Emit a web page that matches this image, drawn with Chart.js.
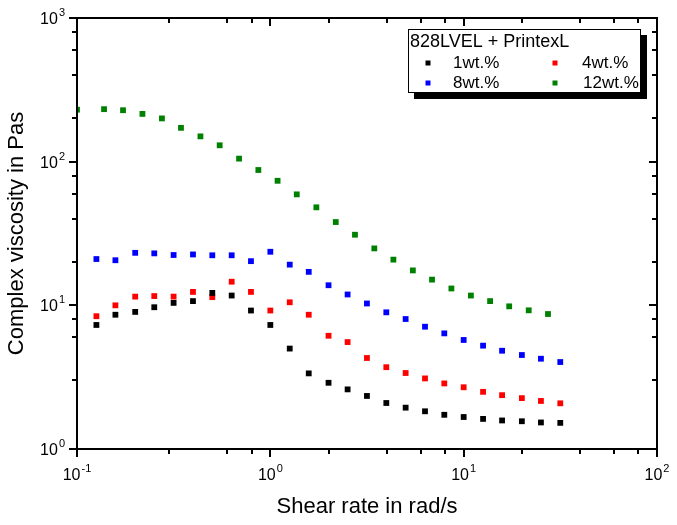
<!DOCTYPE html>
<html><head><meta charset="utf-8">
<script src="https://cdn.jsdelivr.net/npm/chart.js@4"></script>
<style>html,body{margin:0;padding:0;background:#fff}</style>
</head><body>
<canvas id="c" width="677" height="525" style="width:677px;height:525px;display:block"></canvas>
<script>
// Shear rates (rad/s)
const shearStd = [0.126,0.158,0.2,0.251,0.316,0.398,0.501,0.631,0.794,1,1.26,1.58,2,2.51,3.16,3.98,5.01,6.31,7.94,10,12.6,15.8,20,25.1,31.6];
const shear12 = [0.1,0.138,0.173,0.218,0.275,0.345,0.435,0.547,0.689,0.867,1.09,1.37,1.73,2.18,2.74,3.45,4.33,5.46,6.86,8.64,10.9,13.7,17.2,21.7,27.3];
// Complex viscosity (Pa s)
const visc1 = [7.3,8.6,9.0,9.7,10.4,10.7,12.2,11.7,9.2,7.3,5.0,3.36,2.89,2.60,2.34,2.09,1.94,1.83,1.73,1.67,1.62,1.58,1.56,1.53,1.52];
const visc4 = [8.4,10.0,11.5,11.6,11.5,12.4,11.4,14.6,12.4,9.2,10.5,8.6,6.14,5.55,4.30,3.71,3.38,3.10,2.86,2.69,2.50,2.37,2.26,2.16,2.08];
const visc8 = [21,20.6,23.2,23.0,22.4,22.6,22.3,22.3,20.3,23.6,19.2,17.1,13.8,11.9,10.3,8.94,8.03,7.10,6.38,5.74,5.24,4.83,4.51,4.25,4.03];
const visc12 = [230,232,228,215,200,172,150,130,105,87.5,73.6,59.2,48.1,38.0,31.0,24.9,20.8,17.5,15.1,13.1,11.7,10.7,9.84,9.23,8.70];
const seriesLabels = ['1wt.%','4wt.%','8wt.%','12wt.%'];
const seriesColors = ['#000000','#ff0000','#0000ff','#008000'];
const legendTitle = '828LVEL + PrintexL';
const xTitle = 'Shear rate in rad/s';
const yTitle = 'Complex viscosity in Pas';
const xDecades = [-1,0,1,2];
const yDecades = [0,1,2,3];

const FONT = "'Liberation Sans', Arial, sans-serif";
const pts = (xs, ys) => xs.map((x,i)=>({x, y: ys[i]}));
const mk = (i, xs, ys) => ({
  label: seriesLabels[i], data: pts(xs, ys),
  backgroundColor: seriesColors[i], borderColor: seriesColors[i],
  pointStyle: 'rect', pointRadius: 4.1, pointBorderWidth: 0, pointHoverRadius: 4.1,
  showLine: false, clip: 1
});

function isMajor(v){ const l = Math.log10(v); return Math.abs(l - Math.round(l)) < 1e-6; }
function genTicks(min, max){ const t=[]; for(let e=Math.round(Math.log10(min)); e<Math.round(Math.log10(max)); e++){ for(let m=1;m<10;m++) t.push(m*Math.pow(10,e)); } t.push(max); return t; }

const framePlugin = {
  id: 'frame',
  afterDraw(chart){
    const ctx = chart.ctx, a = chart.chartArea, xs = chart.scales.x, ys = chart.scales.y;
    ctx.save();
    ctx.strokeStyle = '#000'; ctx.fillStyle = '#000'; ctx.lineWidth = 2; ctx.lineCap = 'butt';
    ctx.strokeRect(a.left, a.top, a.right - a.left, a.bottom - a.top);
    const xt = (xs.ticks && xs.ticks.length ? xs.ticks.map(t=>t.value) : genTicks(0.1,100));
    const yt = (ys.ticks && ys.ticks.length ? ys.ticks.map(t=>t.value) : genTicks(1,1000));
    ctx.beginPath();
    xt.forEach(v => {
      const px = Math.round(xs.getPixelForValue(v));
      if (px < a.left-0.5 || px > a.right+0.5) return;
      const L = isMajor(v) ? 8 : 5;
      ctx.moveTo(px, a.bottom); ctx.lineTo(px, a.bottom + L);
      ctx.moveTo(px, a.top); ctx.lineTo(px, a.top + L);
    });
    yt.forEach(v => {
      const py = Math.round(ys.getPixelForValue(v));
      if (py < a.top-0.5 || py > a.bottom+0.5) return;
      const L = isMajor(v) ? 8 : 5;
      ctx.moveTo(a.left, py); ctx.lineTo(a.left - L, py);
      ctx.moveTo(a.right, py); ctx.lineTo(a.right - L, py);
    });
    ctx.stroke();

    // tick labels with superscript exponents
    const base = '16px ' + FONT, sup = '11px ' + FONT;
    ctx.textBaseline = 'alphabetic';
    xDecades.forEach(e => {
      const px = xs.getPixelForValue(Math.pow(10, e));
      ctx.font = base; const w1 = ctx.measureText('10').width;
      ctx.font = sup; const w2 = ctx.measureText(String(e)).width;
      const start = px - (w1 + w2 + 1) / 2;
      ctx.textAlign = 'left';
      ctx.font = base; ctx.fillText('10', start, a.bottom + 31);
      ctx.font = sup; ctx.fillText(String(e), start + w1 + 1, a.bottom + 23);
    });
    yDecades.forEach(e => {
      const py = ys.getPixelForValue(Math.pow(10, e));
      const right = a.left - 12;
      ctx.font = sup; const w2 = ctx.measureText(String(e)).width;
      ctx.textAlign = 'right';
      ctx.fillText(String(e), right, py - 2);
      ctx.font = base; ctx.fillText('10', right - w2 - 1, py + 6);
    });

    // axis titles
    ctx.font = '22px ' + FONT; ctx.textAlign = 'center';
    ctx.fillText(xTitle, (a.left + a.right) / 2, 513);
    ctx.save();
    ctx.translate(22.7, (a.top + a.bottom) / 2);
    ctx.rotate(-Math.PI / 2);
    ctx.fillText(yTitle, 0, 0);
    ctx.restore();

    // legend box
    const bx = 408, by = 29, bw = 233, bh = 64;
    ctx.fillStyle = '#000'; ctx.fillRect(bx + 6, by + 6, bw, bh);
    ctx.fillStyle = '#fff'; ctx.fillRect(bx, by, bw, bh);
    ctx.lineWidth = 1; ctx.strokeStyle = '#000';
    ctx.strokeRect(bx + 0.5, by + 0.5, bw - 1, bh - 1);
    ctx.fillStyle = '#000'; ctx.textAlign = 'left';
    ctx.font = '18px ' + FONT; ctx.fillText(legendTitle, 410, 47);
    const pos = [[428, 63, 453, 68],[555, 63, 582, 68],[428, 83, 453, 88],[555, 83, 583, 88]];
    ctx.font = '17px ' + FONT;
    pos.forEach((p, i) => {
      ctx.fillStyle = seriesColors[i];
      ctx.fillRect(p[0] - 2.5, p[1] - 2.5, 5, 5);
      ctx.fillStyle = '#000';
      ctx.fillText(seriesLabels[i], p[2], p[3]);
    });
    ctx.restore();
  }
};

new Chart(document.getElementById('c'), {
  type: 'scatter',
  data: { datasets: [ mk(0, shearStd, visc1), mk(1, shearStd, visc4), mk(2, shearStd, visc8), mk(3, shear12, visc12) ] },
  options: {
    responsive: false, animation: false, devicePixelRatio: 1,
    layout: { padding: { left: 77, right: 20, top: 18, bottom: 76 } },
    plugins: { legend: { display: false }, tooltip: { enabled: false } },
    events: [],
    scales: {
      x: { type: 'logarithmic', min: 0.1, max: 100, display: false },
      y: { type: 'logarithmic', min: 1, max: 1000, display: false }
    }
  },
  plugins: [framePlugin]
});
</script>
</body></html>
